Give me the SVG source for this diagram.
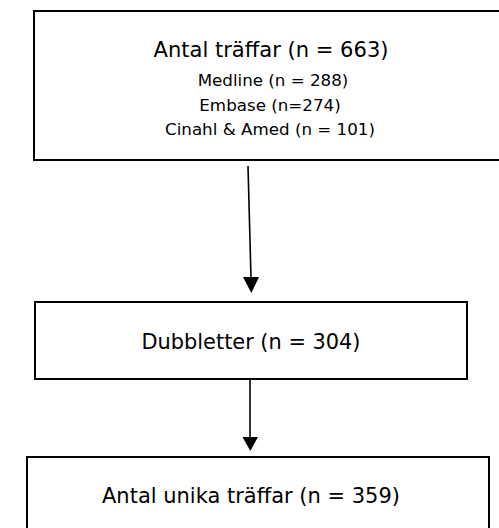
<svg xmlns="http://www.w3.org/2000/svg" width="499" height="528" viewBox="0 0 499 528">
<style>
.box{fill:#fff;stroke:#000;stroke-width:2}
.t{font-family:"DejaVu Sans",sans-serif;fill:#000;text-anchor:middle}
.big{font-size:21px}
.sm{font-size:16.7px}
.ln{stroke:#000;stroke-width:1.6;fill:none}
.hd{fill:#000}
</style>
<rect width="499" height="528" fill="#fff"/>
<g id="node-total">
<rect class="box" x="34" y="11" width="480" height="149"/>
<text class="t big" x="271" y="57" textLength="235" lengthAdjust="spacingAndGlyphs">Antal träffar (n = 663)</text>
<text class="t sm" x="273" y="86">Medline (n = 288)</text>
<text class="t sm" x="270" y="111">Embase (n=274)</text>
<text class="t sm" x="270" y="135" textLength="210" lengthAdjust="spacingAndGlyphs">Cinahl &amp; Amed (n = 101)</text>
</g>
<g id="node-dupl">
<rect class="box" x="35" y="302" width="432" height="77"/>
<text class="t big" x="251" y="349" textLength="219" lengthAdjust="spacingAndGlyphs">Dubbletter (n = 304)</text>
</g>
<g id="node-unique">
<rect class="box" x="27" y="457" width="462" height="100"/>
<text class="t big" x="251" y="503" textLength="298" lengthAdjust="spacingAndGlyphs">Antal unika träffar (n = 359)</text>
</g>
<g id="connectors">
<line class="ln" x1="248" y1="166" x2="251" y2="278"/>
<polygon class="hd" points="243,277 259,277 251.3,293"/>
<line class="ln" x1="250" y1="380" x2="250" y2="438"/>
<polygon class="hd" points="242.5,437 258,437 250.3,451"/>
</g>
</svg>
